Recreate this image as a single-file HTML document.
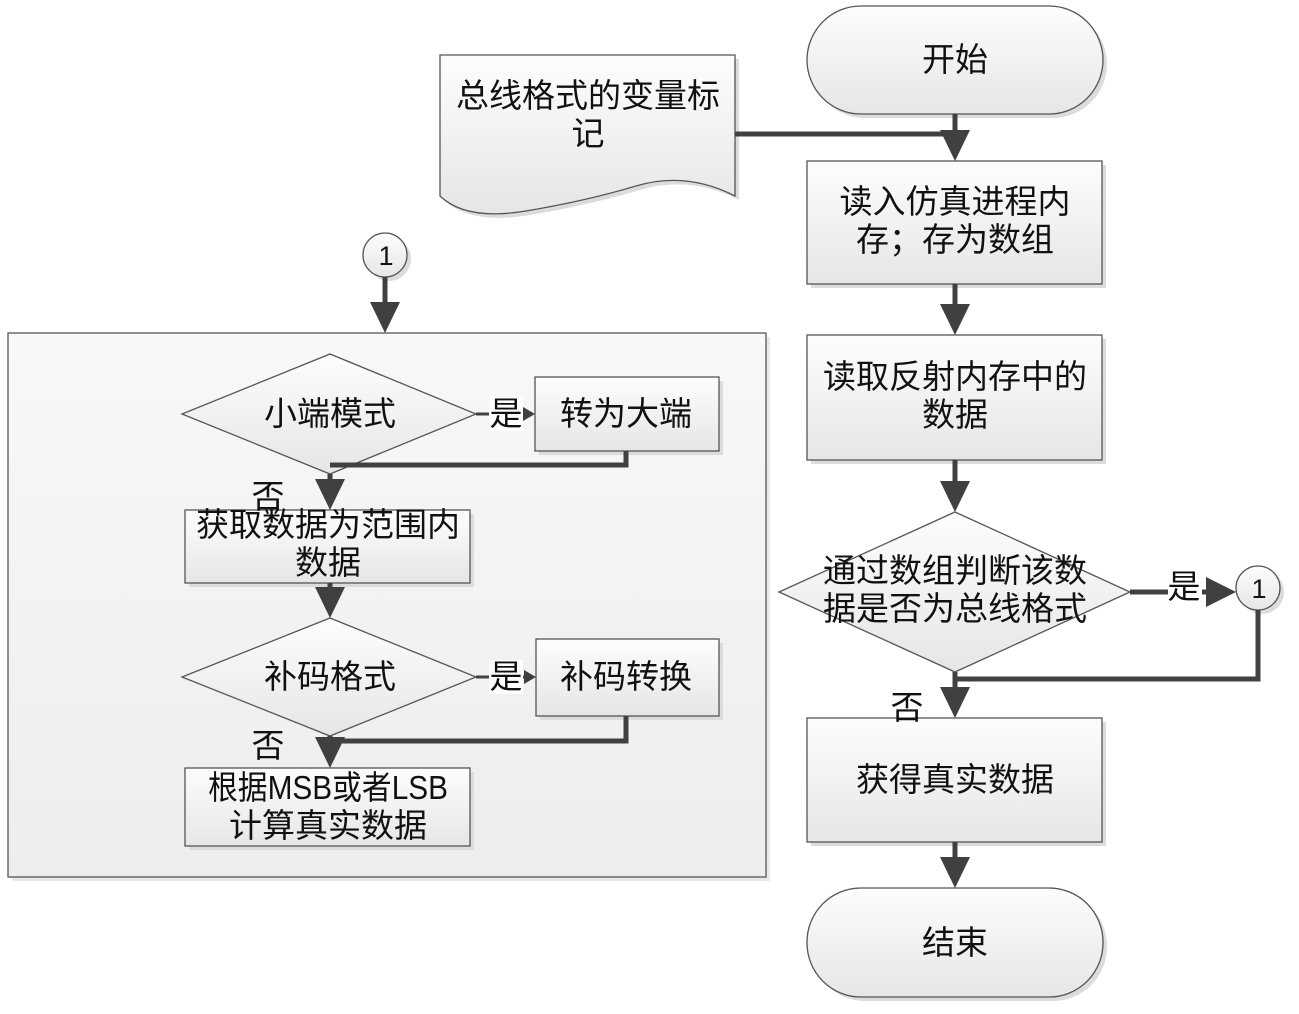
<!DOCTYPE html>
<html><head><meta charset="utf-8"><style>
html,body{margin:0;padding:0;background:#fff;}
svg text{font-family:"Liberation Sans","Noto Sans CJK SC",sans-serif;fill:#111;}
</style></head><body>
<svg width="1299" height="1009" viewBox="0 0 1299 1009" xmlns="http://www.w3.org/2000/svg">
<defs>
<linearGradient id="g" x1="0" y1="0" x2="0" y2="1"><stop offset="0" stop-color="#fdfdfd"/><stop offset="1" stop-color="#e6e6e6"/></linearGradient>
<linearGradient id="c" x1="0" y1="0" x2="0" y2="1"><stop offset="0" stop-color="#f8f8f8"/><stop offset="1" stop-color="#ededed"/></linearGradient>
</defs>
<g stroke="#555" stroke-width="1.3">
<rect x="12" y="337" width="758" height="544" fill="#e8e8e8" stroke="none"/>
<rect x="8" y="333" width="758" height="544" fill="url(#c)"/>
<rect x="811" y="10" width="296" height="108" rx="54" fill="#dcdcdc" stroke="none"/>
<rect x="807" y="6" width="296" height="108" rx="54" fill="url(#g)"/>
<path d="M444,59H739V200Q690,175 640,190T530,215T444,200Z" fill="#dcdcdc" stroke="none"/>
<path d="M440,55H735V196Q686,171 636,186T526,211T440,196Z" fill="url(#g)"/>
<rect x="811" y="165" width="295" height="123" fill="#dcdcdc" stroke="none"/>
<rect x="807" y="161" width="295" height="123" fill="url(#g)"/>
<rect x="811" y="339" width="295" height="125" fill="#dcdcdc" stroke="none"/>
<rect x="807" y="335" width="295" height="125" fill="url(#g)"/>
<polygon points="955,512 1130,592 955,672 779,592" fill="url(#g)"/>
<circle cx="1262" cy="592" r="22" fill="#dcdcdc" stroke="none"/>
<circle cx="1258" cy="588" r="22" fill="url(#g)"/>
<rect x="811" y="722" width="295" height="124" fill="#dcdcdc" stroke="none"/>
<rect x="807" y="718" width="295" height="124" fill="url(#g)"/>
<rect x="811" y="892" width="296" height="109" rx="54" fill="#dcdcdc" stroke="none"/>
<rect x="807" y="888" width="296" height="109" rx="54" fill="url(#g)"/>
<circle cx="389" cy="259" r="22" fill="#dcdcdc" stroke="none"/>
<circle cx="385" cy="255" r="22" fill="url(#g)"/>
<polygon points="330,354 476,414 330,474 182,414" fill="url(#g)"/>
<rect x="539" y="381" width="184" height="74" fill="#dcdcdc" stroke="none"/>
<rect x="535" y="377" width="184" height="74" fill="url(#g)"/>
<rect x="189" y="514" width="285" height="73" fill="#dcdcdc" stroke="none"/>
<rect x="185" y="510" width="285" height="73" fill="url(#g)"/>
<polygon points="330,618 476,677 330,736 182,677" fill="url(#g)"/>
<rect x="540" y="643" width="183" height="77" fill="#dcdcdc" stroke="none"/>
<rect x="536" y="639" width="183" height="77" fill="url(#g)"/>
<rect x="189" y="772" width="285" height="78" fill="#dcdcdc" stroke="none"/>
<rect x="185" y="768" width="285" height="78" fill="url(#g)"/>
</g>
<g stroke="#404040" stroke-width="5" fill="none">
<path d="M955,114V140"/>
<path d="M735,134H955"/>
<path d="M955,284V312"/>
<path d="M955,460V490"/>
<path d="M1130,592H1212"/>
<path d="M1258,610V679H955"/>
<path d="M955,672V696"/>
<path d="M955,842V866"/>
<path d="M385,277V310"/>
<path d="M476,414H525" stroke-width="3"/>
<path d="M626,451V465H330"/>
<path d="M330,474V488"/>
<path d="M330,583V596"/>
<path d="M476,677H526" stroke-width="3"/>
<path d="M626,716V741H330"/>
<path d="M330,736V748"/>
</g>
<g fill="#404040">
<polygon points="940,130 970,130 955,161"/>
<polygon points="940,304 970,304 955,335"/>
<polygon points="940,481 970,481 955,512"/>
<polygon points="940,687 970,687 955,718"/>
<polygon points="940,857 970,857 955,888"/>
<polygon points="1206,577 1206,607 1236,592"/>
<polygon points="370,302 400,302 385,333"/>
<polygon points="315,479 345,479 330,510"/>
<polygon points="315,587 345,587 330,618"/>
<polygon points="315,737 345,737 330,768"/>
<polygon points="523,407 523,421 535,414"/>
<polygon points="524,670 524,684 536,677"/>
</g>
<g font-size="33" text-anchor="middle">
<rect x="1168" y="572" width="34" height="34" fill="#fff"/>
<rect x="489" y="397" width="34" height="34" fill="#fff"/>
<rect x="489" y="660" width="34" height="34" fill="#fff"/>
<text x="955" y="71">开始</text>
<text x="588" y="107">总线格式的变量标</text>
<text x="588" y="145">记</text>
<text x="955" y="213">读入仿真进程内</text>
<text x="955" y="251">存；存为数组</text>
<text x="955" y="388">读取反射内存中的</text>
<text x="955" y="426">数据</text>
<text x="955" y="582">通过数组判断该数</text>
<text x="955" y="620">据是否为总线格式</text>
<text x="1184" y="598">是</text>
<text x="1259" y="598" font-size="27">1</text>
<text x="907" y="719">否</text>
<text x="955" y="791">获得真实数据</text>
<text x="955" y="954">结束</text>
<text x="386" y="265" font-size="27">1</text>
<text x="330" y="425">小端模式</text>
<text x="506" y="425">是</text>
<text x="626" y="425">转为大端</text>
<text x="268" y="508">否</text>
<text x="328" y="536">获取数据为范围内</text>
<text x="328" y="574">数据</text>
<text x="330" y="688">补码格式</text>
<text x="506" y="688">是</text>
<text x="626" y="688">补码转换</text>
<text x="268" y="757">否</text>
<text x="328" y="799" textLength="240" lengthAdjust="spacingAndGlyphs">根据MSB或者LSB</text>
<text x="328" y="837">计算真实数据</text>
</g>
</svg>
</body></html>
